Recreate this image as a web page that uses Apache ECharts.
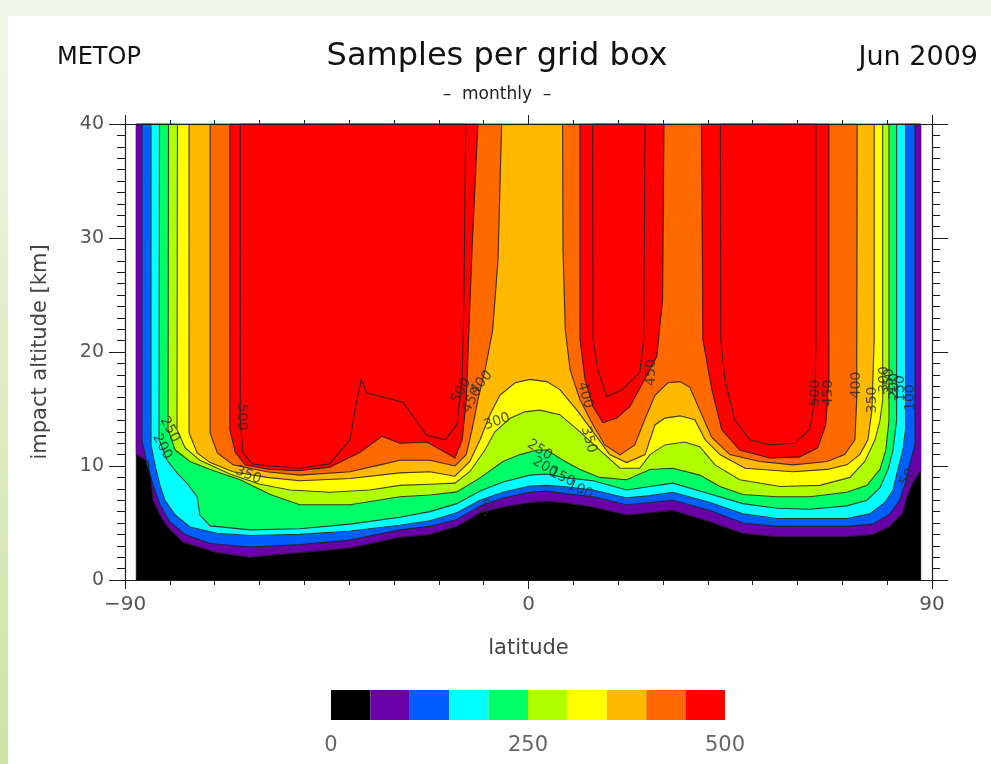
<!DOCTYPE html>
<html>
<head>
<meta charset="utf-8">
<script src="https://cdn.jsdelivr.net/npm/echarts@6/dist/echarts.min.js"></script>
<style>
  html, body { margin: 0; padding: 0; width: 991px; height: 764px; overflow: hidden;
    background: linear-gradient(to bottom, #f1f8ea 0%, #d9ebbd 60%, #cde3a6 100%); }
  #panel { position: absolute; left: 8px; top: 16px; width: 983px; height: 748px; background: #fff; }
  #chart { position: absolute; left: 0; top: 0; width: 991px; height: 764px; }
</style>
</head>
<body>
<div id="panel"></div>
<div id="chart"></div>
<script>
// Contour levels (samples per grid box) and their fill colours
const levels = [0, 50, 100, 150, 200, 250, 300, 350, 400, 450, 500];
const bandColors = ['#000000', '#6a00a8', '#005eff', '#00ffff', '#00ff66',
                    '#b0ff00', '#ffff00', '#ffb900', '#ff6a00', '#ff0000'];

// Extent of the gridded data: latitude box centres and altitude range
const latLimits = [-87.5, 87.5];
const altLimits = [0, 40];

// Contour lines as [latitude, altitude km]; each one encloses the region
// where the sample count is at or above its level.
const c50 = [[-87.5,40],[-87.5,11.0],[-84.9,10.4],[-84.2,8.8],[-83.7,7.0],[-82.2,5.7],[-80.6,4.7],[-77.0,3.3],[-69.5,2.4],[-62.1,2.0],[-51.0,2.4],[-39.8,2.8],[-29.3,3.7],[-22.0,4.0],[-16.0,4.7],[-10.8,5.9],[-5.7,6.4],[0.3,6.8],[4.1,6.9],[7.7,6.8],[14.4,6.4],[21.9,5.7],[27.1,5.9],[32.2,6.1],[40.5,5.1],[47.8,4.1],[55.4,3.8],[62.7,3.8],[71.0,3.8],[76.8,4.0],[80.6,4.7],[83.5,5.9],[84.4,7.3],[85.7,8.5],[87.5,9.6],[87.5,40]];
const c100 = [[-86.2,40],[-86.2,12.3],[-85.1,10.1],[-83.7,8.3],[-82.2,6.6],[-80.0,5.1],[-76.6,4.0],[-71.0,3.2],[-62.1,2.9],[-51.0,3.1],[-39.8,3.5],[-28.7,4.4],[-22.0,4.7],[-16.0,5.3],[-10.8,6.5],[-5.7,7.2],[0.3,7.7],[4.1,7.8],[7.7,7.6],[14.4,7.3],[21.9,6.6],[27.1,6.8],[32.2,7.0],[40.5,6.1],[47.8,5.0],[55.4,4.7],[62.7,4.7],[71.0,4.7],[76.8,4.9],[80.6,5.8],[82.8,7.0],[84.0,8.5],[85.0,10.1],[86.2,11.9],[86.2,40]];
const c150 = [[-84.2,40],[-84.2,11.85],[-83.3,10.1],[-82.2,8.3],[-81.1,7.0],[-78.8,5.7],[-75.5,4.65],[-69.5,4.1],[-62.1,3.9],[-51.0,4.0],[-39.8,4.3],[-28.7,4.8],[-22.0,5.2],[-16.0,5.9],[-10.8,7.0],[-5.7,7.7],[0.3,8.25],[4.1,8.3],[7.7,8.2],[14.4,7.9],[21.9,7.2],[27.1,7.4],[32.2,7.7],[40.5,6.8],[47.8,5.8],[55.4,5.4],[62.7,5.4],[71.0,5.4],[76.1,5.8],[79.5,6.8],[81.3,7.9],[82.4,9.7],[83.5,11.4],[84.1,13.2],[84.1,40]];
const c200 = [[-82.3,40],[-82.4,12.3],[-80.6,10.5],[-78.4,9.4],[-76.2,8.5],[-73.9,7.3],[-73.3,5.7],[-71.0,4.75],[-62.1,4.4],[-51.0,4.5],[-39.8,4.9],[-28.7,5.5],[-22.0,6.0],[-16.0,6.7],[-10.8,7.8],[-5.7,8.6],[0.3,9.2],[4.1,9.3],[7.7,9.0],[14.4,8.7],[21.9,7.9],[27.1,8.2],[32.2,8.5],[40.5,7.55],[47.8,6.7],[55.4,6.3],[62.7,6.2],[71.0,6.5],[75.5,7.0],[78.4,8.1],[80.2,9.7],[81.3,11.4],[82.1,14.0],[82.1,40]];
const c250 = [[-80.3,40],[-80.4,13.2],[-78.8,11.4],[-75.5,10.4],[-71.0,9.7],[-64.3,8.8],[-57.6,7.5],[-51.0,6.6],[-39.8,6.6],[-28.7,7.3],[-22.0,7.46],[-16.0,7.73],[-10.8,8.96],[-5.7,10.4],[-1.9,11.0],[1.9,11.4],[4.1,11.4],[7.7,10.5],[11.5,9.7],[15.9,9.0],[21.9,8.8],[27.1,9.7],[32.2,9.8],[38.2,9.2],[42.7,8.2],[47.8,7.5],[55.4,7.3],[62.7,7.3],[71.0,7.7],[75.5,8.3],[78.4,9.7],[79.7,11.4],[80.4,14.0],[80.4,40]];
const c300 = [[-78.3,40],[-78.4,13.2],[-76.6,11.6],[-73.3,10.5],[-66.6,9.3],[-59.9,8.4],[-53.2,7.9],[-44.3,7.7],[-35.4,7.9],[-28.7,8.3],[-22.0,8.4],[-16.4,8.5],[-13.1,9.5],[-9.7,11.4],[-7.5,13.0],[-4.1,14.2],[-0.8,14.75],[2.5,14.9],[7.0,14.5],[11.5,13.0],[15.9,11.4],[20.4,9.8],[24.8,9.8],[27.1,11.0],[30.4,11.85],[34.8,12.1],[38.2,11.7],[41.6,10.1],[47.1,8.8],[56.1,8.2],[65.0,8.3],[71.7,9.0],[75.0,10.4],[77.3,12.3],[78.4,14.0],[79.0,15.8],[79.0,40]];
const c350 = [[-75.7,40],[-75.7,12.9],[-73.9,11.15],[-71.0,10.3],[-65.9,9.5],[-58.3,9.0],[-51.0,8.7],[-39.8,8.9],[-28.7,9.4],[-22.0,9.5],[-16.4,9.1],[-13.1,10.4],[-10.8,12.3],[-8.6,14.5],[-6.4,16.2],[-3.0,17.3],[0.3,17.6],[4.1,17.4],[7.0,16.7],[10.8,14.9],[14.4,13.0],[18.1,11.0],[21.9,10.3],[26.0,11.0],[28.2,13.6],[30.4,14.2],[33.8,14.4],[37.1,14.05],[39.4,12.3],[42.7,11.0],[48.3,9.8],[59.0,9.5],[66.6,9.7],[71.0,10.1],[73.9,11.0],[75.7,12.3],[76.6,14.9],[77.1,21.1],[77.1,40]];
const c400a = [[-71.0,40],[-71.0,12.9],[-69.4,11.15],[-65.9,10.1],[-58.3,9.5],[-51.0,9.2],[-39.8,9.5],[-33.1,10.1],[-28.7,10.5],[-22.0,10.5],[-16.4,10.0],[-13.9,11.0],[-12.6,13.2],[-11.3,15.8],[-9.7,18.4],[-8.0,21.9],[-6.8,28.1],[-6.0,40]];
const c400b = [[7.6,40],[7.7,29.0],[8.2,22.0],[9.3,18.4],[11.5,15.8],[14.4,13.6],[17.0,11.85],[20.4,10.97],[23.7,11.85],[25.9,14.05],[28.2,16.2],[31.1,17.3],[33.8,17.4],[36.0,16.9],[38.2,14.9],[40.9,12.5],[44.9,11.0],[51.6,10.4],[59.0,10.1],[66.6,10.4],[70.5,11.0],[72.8,12.3],[73.2,15.8],[73.3,40]];
const c450a = [[-66.6,40],[-66.6,13.2],[-65.4,11.2],[-63.2,10.1],[-57.6,9.7],[-51.0,9.6],[-44.3,9.9],[-37.6,11.2],[-32.7,12.6],[-28.7,12.0],[-22.7,12.1],[-18.6,11.2],[-16.4,10.7],[-14.8,12.3],[-13.9,15.8],[-13.3,21.9],[-12.6,29.0],[-11.3,40]];
const c450b = [[11.5,40],[11.5,21.1],[12.6,17.6],[14.4,15.2],[16.6,13.8],[19.7,14.2],[22.6,15.2],[25.5,17.3],[28.6,19.6],[29.9,24.6],[30.2,40]];
const c450c = [[38.6,40],[38.9,21.1],[40.9,16.7],[43.1,13.2],[47.1,11.4],[53.8,10.7],[60.5,10.8],[64.5,11.6],[66.3,13.6],[67.0,17.6],[67.0,40]];
const c500a = [[-64.3,40],[-64.3,14.05],[-63.7,11.2],[-61.7,10.2],[-57.6,10.0],[-51.0,9.8],[-44.3,10.2],[-39.8,12.3],[-38.7,14.9],[-37.3,17.6],[-36.0,16.4],[-28.0,15.6],[-22.7,12.7],[-18.6,12.3],[-16.0,13.6],[-14.8,17.6],[-14.4,24.6],[-14.0,40]];
const c500b = [[14.3,40],[14.4,21.1],[15.5,18.4],[17.5,16.1],[21.0,16.7],[24.8,18.2],[25.7,21.1],[26.0,40]];
const c500c = [[42.8,40],[42.9,21.1],[43.8,17.6],[46.0,14.05],[49.4,12.3],[53.8,11.85],[59.4,12.0],[62.7,13.2],[63.9,15.8],[64.1,21.1],[64.1,40]];

// Contour annotations: [latitude, altitude, text, rotation in degrees]
const contourLabels = [
  [-64.0, 14.3, '500', -90],
  [-80.0, 13.2, '250', -62],
  [-81.7, 11.7, '200', -62],
  [-62.5, 9.2, '350', -22],
  [-15.0, 16.6, '500', 62],
  [-12.6, 15.8, '450', 62],
  [-10.5, 17.3, '400', 50],
  [-7.0, 13.9, '300', 20],
  [2.5, 11.4, '250', -32],
  [3.7, 9.9, '200', -30],
  [7.5, 9.0, '150', -25],
  [11.5, 7.9, '100', -25],
  [-9.3, 6.3, '50', 50],
  [12.6, 16.2, '400', -75],
  [13.4, 12.3, '350', -75],
  [27.5, 18.2, '450', 90],
  [63.9, 16.4, '500', 90],
  [66.8, 16.4, '450', 90],
  [73.2, 17.1, '400', 90],
  [76.8, 15.8, '350', 90],
  [79.4, 17.6, '300', 90],
  [80.6, 17.4, '250', 90],
  [81.6, 17.0, '200', 90],
  [83.0, 16.8, '150', 90],
  [85.2, 16.0, '100', 90],
  [84.6, 9.0, '50', 60]
];

// Colour bar bins
const barBins = levels.slice(0, -1).map((lo, i) => [lo, levels[i + 1], i]);

const FONT = '"DejaVu Sans", "Liberation Sans", sans-serif';

function levelColor(level) {
  return bandColors[Math.min(levels.indexOf(level), bandColors.length - 1)];
}

// Filled regions painted in ascending level order over a black base
const regions = [
  { pts: [[latLimits[0], altLimits[0]], [latLimits[1], altLimits[0]], [latLimits[1], altLimits[1]], [latLimits[0], altLimits[1]]], color: bandColors[0], line: false }
];
[[50, c50, 'edge'], [100, c100], [150, c150], [200, c200], [250, c250], [300, c300],
 [350, c350], [400, c400a], [400, c400b], [450, c450a], [450, c450b], [450, c450c],
 [500, c500a], [500, c500b], [500, c500c]].forEach(([lvl, pts, edge]) => {
  regions.push({ pts, color: levelColor(lvl), line: true, edge: !!edge });
});

const chart = echarts.init(document.getElementById('chart'), null, { renderer: 'canvas' });

const axisCommon = {
  type: 'value',
  axisLine: { show: true, onZero: false, lineStyle: { color: '#1a1a1a', width: 1.2 } },
  splitLine: { show: false },
  z: 10
};

chart.setOption({
  animation: false,
  backgroundColor: 'transparent',
  textStyle: { fontFamily: FONT },
  grid: [
    { left: 125, top: 124, width: 807, height: 456 },
    { left: 331, top: 690, width: 394, height: 30 }
  ],
  xAxis: [
    Object.assign({}, axisCommon, {
      gridIndex: 0, position: 'bottom', min: -90, max: 90, interval: 90,
      axisTick: { show: true, length: 9, lineStyle: { color: '#1a1a1a' } },
      minorTick: { show: true, splitNumber: 9, length: 5, lineStyle: { color: '#1a1a1a' } },
      axisLabel: { margin: 15, fontSize: 20, color: '#555', fontFamily: FONT,
        formatter: v => (v < 0 ? '\u2212' + Math.abs(v) : String(v)) },
      name: 'latitude', nameLocation: 'middle', nameGap: 58,
      nameTextStyle: { fontSize: 21, color: '#444', fontFamily: FONT }
    }),
    Object.assign({}, axisCommon, {
      gridIndex: 0, position: 'top', min: -90, max: 90, interval: 90,
      axisTick: { show: true, length: 9, lineStyle: { color: '#1a1a1a' } },
      minorTick: { show: true, splitNumber: 9, length: 4, lineStyle: { color: '#1a1a1a' } },
      axisLabel: { show: false }
    }),
    {
      type: 'value', gridIndex: 1, min: 0, max: 500, interval: 250,
      axisLine: { show: false }, axisTick: { show: false }, splitLine: { show: false },
      axisLabel: { margin: 15, fontSize: 21, color: '#666', fontFamily: FONT }
    }
  ],
  yAxis: [
    Object.assign({}, axisCommon, {
      gridIndex: 0, position: 'left', min: 0, max: 40, interval: 10,
      axisTick: { show: true, length: 16, lineStyle: { color: '#1a1a1a' } },
      minorTick: { show: true, splitNumber: 10, length: 8, lineStyle: { color: '#1a1a1a' } },
      axisLabel: { margin: 21, fontSize: 19, color: '#555', fontFamily: FONT },
      name: 'impact altitude [km]', nameLocation: 'middle', nameGap: 74,
      nameTextStyle: { fontSize: 21, color: '#444', fontFamily: FONT }
    }),
    Object.assign({}, axisCommon, {
      gridIndex: 0, position: 'right', min: 0, max: 40, interval: 10,
      axisTick: { show: true, length: 16, lineStyle: { color: '#1a1a1a' } },
      minorTick: { show: true, splitNumber: 10, length: 8, lineStyle: { color: '#1a1a1a' } },
      axisLabel: { show: false }
    }),
    { type: 'value', gridIndex: 1, min: 0, max: 1, show: false }
  ],
  graphic: [
    { type: 'text', x: 57, y: 58, style: { text: 'METOP', font: '24px ' + FONT, fill: '#111', verticalAlign: 'middle' } },
    { type: 'text', x: 497, y: 57, style: { text: 'Samples per grid box', font: '32px ' + FONT, fill: '#111', align: 'center', verticalAlign: 'middle' } },
    { type: 'text', x: 978, y: 58, style: { text: 'Jun 2009', font: '27px ' + FONT, fill: '#111', align: 'right', verticalAlign: 'middle' } },
    { type: 'text', x: 497, y: 95, style: { text: '\u2013  monthly  \u2013', font: '17px ' + FONT, fill: '#222', align: 'center', verticalAlign: 'middle' } }
  ],
  series: [
    {
      type: 'custom', name: 'fill', xAxisIndex: 0, yAxisIndex: 0, silent: true, z: 1,
      data: regions.map((r, i) => [0, 20, i]),
      encode: { x: 0, y: 1 },
      renderItem: (params, api) => {
        const r = regions[api.value(2)];
        return { type: 'polygon', shape: { points: r.pts.map(p => api.coord(p)) },
                 style: { fill: r.color, stroke: r.color, lineWidth: 0.6 } };
      }
    },
    {
      type: 'custom', name: 'lines', xAxisIndex: 0, yAxisIndex: 0, silent: true, z: 3,
      data: regions.map((r, i) => [0, 20, i]).filter(d => regions[d[2]].line),
      encode: { x: 0, y: 1 },
      renderItem: (params, api) => {
        const r = regions[api.value(2)];
        const pts = r.edge ? r.pts.slice(1, -1) : r.pts;
        return { type: 'polyline', shape: { points: pts.map(p => api.coord(p)) },
                 style: { fill: null, stroke: 'rgba(30,30,30,0.85)', lineWidth: 1.1 } };
      }
    },
    {
      type: 'scatter', name: 'labels', xAxisIndex: 0, yAxisIndex: 0, silent: true, z: 4,
      symbolSize: 0,
      data: contourLabels.map(([lat, alt, txt, rot]) => ({
        value: [lat, alt], name: txt,
        label: { rotate: rot }
      })),
      label: { show: true, position: 'inside', formatter: '{b}', fontSize: 14,
               color: '#2a2a2a', fontFamily: FONT }
    },
    {
      type: 'custom', name: 'colorbar', xAxisIndex: 2, yAxisIndex: 2, silent: true,
      data: barBins,
      encode: { x: [0, 1] },
      renderItem: (params, api) => {
        const p0 = api.coord([api.value(0), 0]);
        const p1 = api.coord([api.value(1), 1]);
        return { type: 'rect', shape: { x: p0[0], y: p1[1], width: p1[0] - p0[0], height: p0[1] - p1[1] },
                 style: { fill: bandColors[api.value(2)] } };
      }
    }
  ]
});
</script>
</body>
</html>
